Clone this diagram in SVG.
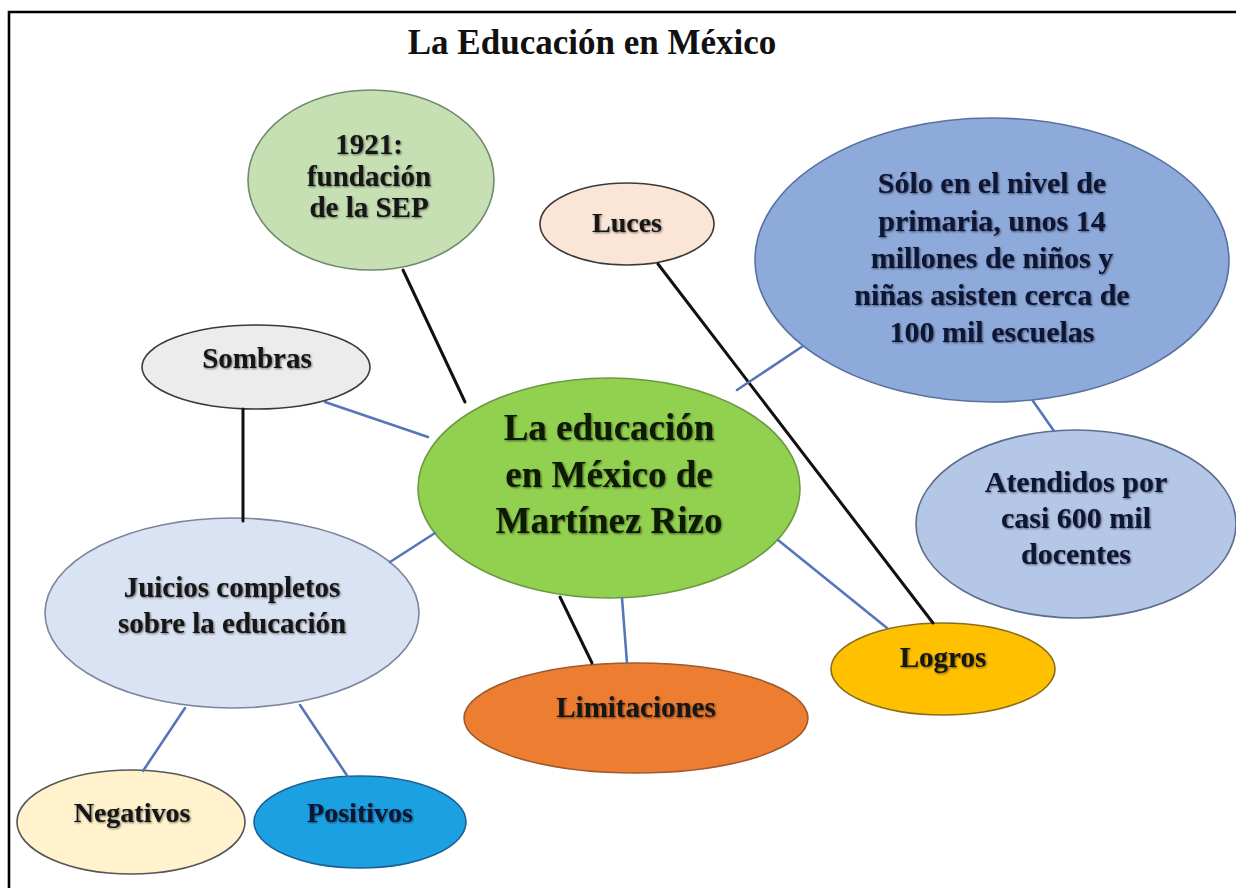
<svg xmlns="http://www.w3.org/2000/svg" width="1236" height="888" viewBox="0 0 1236 888">
<style>
  text { font-family: "Liberation Serif", "Times New Roman", serif; font-weight: bold; text-anchor: middle; fill: #141414; }
  .title { font-size: 35px; fill: #111; }
  .t29 { font-size: 29px; }
  .t30 { font-size: 30px; }
  .t28 { font-size: 28px; }
  .t37 { font-size: 37px; fill: #0d1a06; }
  .navy { fill: #0c1230; }
  .sh { filter: url(#shadow); }
  ellipse { stroke-width: 1.6; }
  .blk { stroke: #111; stroke-width: 3; fill: none; stroke-linecap: round; }
  .blu { stroke: #5577b9; stroke-width: 2.6; fill: none; stroke-linecap: round; }
</style>
<defs>
  <filter id="shadow" x="-10%" y="-30%" width="120%" height="160%">
    <feGaussianBlur in="SourceAlpha" stdDeviation="1.2" result="b"/>
    <feOffset in="b" dx="1" dy="1" result="o"/>
    <feComponentTransfer in="o" result="s"><feFuncA type="linear" slope="0.55"/></feComponentTransfer>
    <feMerge><feMergeNode in="s"/><feMergeNode in="SourceGraphic"/></feMerge>
  </filter>
</defs>
<rect x="0" y="0" width="1236" height="888" fill="#ffffff"/>
<g id="frame">
  <path d="M9,888 V12 H1236" fill="none" stroke="#000" stroke-width="2.6"/>
</g>
<text id="title" class="title" x="592" y="54">La Educación en México</text>
<g id="nodes">
  <g id="n1921">
    <ellipse cx="371" cy="180" rx="123" ry="90" fill="#c6e0b4" stroke="#6f8a6c"/>
    <g class="sh">
      <text class="t29" x="369" y="154">1921:</text>
      <text class="t29" x="369" y="186">fundación</text>
      <text class="t29" x="369" y="217">de la SEP</text>
    </g>
  </g>
  <g id="luces">
    <ellipse cx="627" cy="224" rx="87" ry="41" fill="#fbe5d6" stroke="#3a3a3a"/>
    <text class="t28 sh" x="627" y="232">Luces</text>
  </g>
  <g id="sombras">
    <ellipse cx="256" cy="367" rx="114" ry="42" fill="#ececec" stroke="#3a3a3a"/>
    <text class="t29 sh" x="257" y="368">Sombras</text>
  </g>
  <g id="primaria">
    <ellipse cx="992" cy="260" rx="237" ry="142" fill="#8eaadb" stroke="#56729f"/>
    <g class="sh">
      <text class="t30 navy" x="992" y="193">Sólo en el nivel de</text>
      <text class="t30 navy" x="992" y="231">primaria, unos 14</text>
      <text class="t30 navy" x="992" y="268">millones de niños y</text>
      <text class="t30 navy" x="992" y="305">niñas asisten cerca de</text>
      <text class="t30 navy" x="992" y="342">100 mil escuelas</text>
    </g>
  </g>
  <g id="centro">
    <ellipse cx="609" cy="488" rx="191" ry="110" fill="#92d050" stroke="#6b9a44"/>
    <g class="sh">
      <text class="t37" x="609" y="440">La educación</text>
      <text class="t37" x="609" y="487">en México de</text>
      <text class="t37" x="609" y="533">Martínez Rizo</text>
    </g>
  </g>
  <g id="atendidos">
    <ellipse cx="1076" cy="524" rx="160" ry="94" fill="#b4c7e7" stroke="#5d6d8f"/>
    <g class="sh">
      <text class="t30 navy" x="1076" y="492">Atendidos por</text>
      <text class="t30 navy" x="1076" y="528">casi 600 mil</text>
      <text class="t30 navy" x="1076" y="564">docentes</text>
    </g>
  </g>
  <g id="juicios">
    <ellipse cx="232" cy="613" rx="187" ry="95" fill="#dae3f3" stroke="#7b869b"/>
    <g class="sh">
      <text class="t29" x="232" y="597">Juicios completos</text>
      <text class="t29" x="232" y="633">sobre la educación</text>
    </g>
  </g>
  <g id="limitaciones">
    <ellipse cx="636" cy="718" rx="172" ry="55" fill="#ed7d31" stroke="#9c5a2e"/>
    <text class="t29 sh" x="636" y="717">Limitaciones</text>
  </g>
  <g id="logros">
    <ellipse cx="943" cy="669" rx="112" ry="46" fill="#ffc000" stroke="#8a6d1c"/>
    <text class="t29 sh" x="943" y="667">Logros</text>
  </g>
  <g id="negativos">
    <ellipse cx="131" cy="822" rx="114" ry="52" fill="#fff2cc" stroke="#555555"/>
    <text class="t28 sh" x="132" y="822">Negativos</text>
  </g>
  <g id="positivos">
    <ellipse cx="360" cy="822" rx="106" ry="46" fill="#1ba1e2" stroke="#1d5f93"/>
    <text class="t28 navy sh" x="360" y="822">Positivos</text>
  </g>
</g>
<g id="connectors">
  <line class="blk" x1="403" y1="270" x2="465" y2="402"/>
  <line class="blk" x1="658" y1="264" x2="933" y2="623"/>
  <line class="blk" x1="243" y1="409" x2="243" y2="521"/>
  <line class="blk" x1="560" y1="597" x2="592" y2="663"/>
  <line class="blu" x1="622" y1="598" x2="627" y2="663"/>
  <line class="blu" x1="325" y1="402" x2="428" y2="437"/>
  <line class="blu" x1="390" y1="562" x2="435" y2="533"/>
  <line class="blu" x1="737" y1="390" x2="803" y2="346"/>
  <line class="blu" x1="1033" y1="401" x2="1054" y2="431"/>
  <line class="blu" x1="778" y1="540" x2="887" y2="628"/>
  <line class="blu" x1="185" y1="708" x2="143" y2="771"/>
  <line class="blu" x1="300" y1="705" x2="348" y2="777"/>
</g>
</svg>
